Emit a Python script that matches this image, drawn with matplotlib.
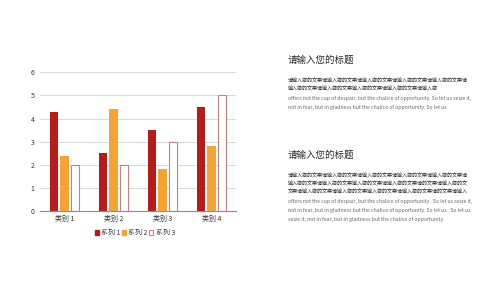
import matplotlib
matplotlib.use("Agg")
import matplotlib.pyplot as plt
import numpy as np
from matplotlib.patches import Patch

plt.rcParams['font.family'] = ['Noto Sans CJK SC', 'DejaVu Sans']

categories = ["类别 1", "类别 2", "类别 3", "类别 4"]
series_names = ["系列 1", "系列 2", "系列 3"]
s1 = [4.3, 2.5, 3.5, 4.5]
s2 = [2.4, 4.4, 1.8, 2.8]
s3 = [2.0, 2.0, 3.0, 5.0]
yticks = [0, 1, 2, 3, 4, 5, 6]

title_text = "请输入您的标题"
block1 = [
    "请输入您的文案请输入您的文案请输入您的文案请输入您的文案请输入您的文案请",
    "输入您的文案请输入您的文案输入您的文案请输入您的文案请输入您",
    "offers not the cup of despair, but the chalice of opportunity. So let us seize it,",
    "not in fear, but in gladness but the chalice of opportunity. So let us",
]
block2 = [
    "请输入您的文案请输入您的文案请输入您的文案请输入您的文案请输入您的文案请",
    "输入您的文案请输入您的文案输入您的文案请输入您的文案请的文案请输入您的文",
    "文案请输入您的文案请输入您的文案输入您的文案请输入您的文案请的文案请输入",
    "offers not the cup of despair, but the chalice of opportunity . So let us seize it,",
    "not in fear, but in gladness but the chalice of opportunity. So let us . So let us",
    "seize it, not in fear, but in gladness but the chalice of opportunity.",
]

W, H = 500, 281
fig = plt.figure(figsize=(5, 2.81), dpi=100)
fig.patch.set_facecolor("white")

ax = fig.add_axes([40 / W, 1 - 211 / H, 196 / W, (211 - 72.3) / H])
x = np.arange(len(categories))
bw = 0.175
off = 0.214
red = "#B71C1C"
orange = "#F4A334"
edge3 = "#C98080"
ax.bar(x - off, s1, bw, color=red, zorder=3)
ax.bar(x, s2, bw, color=orange, zorder=3)
ax.bar(x + off, s3, bw, color="white", edgecolor=edge3, linewidth=0.8, zorder=3)

ax.set_xlim(-0.5, 3.5)
ax.set_ylim(0, 6)
ax.set_yticks(yticks)
ax.set_yticklabels([str(t) for t in yticks], fontsize=5, color="#333333")
ax.set_xticks(x)
ax.set_xticklabels(categories, fontsize=5, color="#333333")
ax.tick_params(axis="both", length=0, pad=4)
ax.tick_params(axis="x", pad=3)
ax.grid(axis="y", color="#D9D9D9", linewidth=0.7, zorder=0)
for s in ["top", "right", "left"]:
    ax.spines[s].set_visible(False)
ax.spines["bottom"].set_color("#8C8C8C")
ax.spines["bottom"].set_linewidth(0.8)
ax.spines["bottom"].set_zorder(4)

handles = [Patch(facecolor=red, edgecolor=red),
           Patch(facecolor=orange, edgecolor=orange),
           Patch(facecolor="white", edgecolor=edge3, linewidth=0.8)]
fig.legend(handles, series_names, loc="center", bbox_to_anchor=(135 / W, 1 - 233 / H),
           ncol=3, frameon=False, fontsize=5, handlelength=0.6, handleheight=0.6,
           handletextpad=0.3, columnspacing=0.2, labelcolor="#333333")

tx = 288 / W
def put_block(title_y, lines, ys):
    fig.text(tx, 1 - title_y / H, title_text, fontsize=6.8, color="#262626", va="center", ha="left")
    for ln, yy in zip(lines, ys):
        is_cjk = any(ord(c) > 0x2E80 for c in ln)
        fig.text(tx, 1 - yy / H, ln, fontsize=3.65 if is_cjk else 3.7, va="center", ha="left",
                 color="#262626" if is_cjk else "#666666")

put_block(60.5, block1, [81, 89.5, 98.5, 108])
put_block(155, block2, [175.7, 184, 192.5, 201.3, 210.5, 219.3])

fig.savefig("out.png", dpi=100, facecolor="white")
